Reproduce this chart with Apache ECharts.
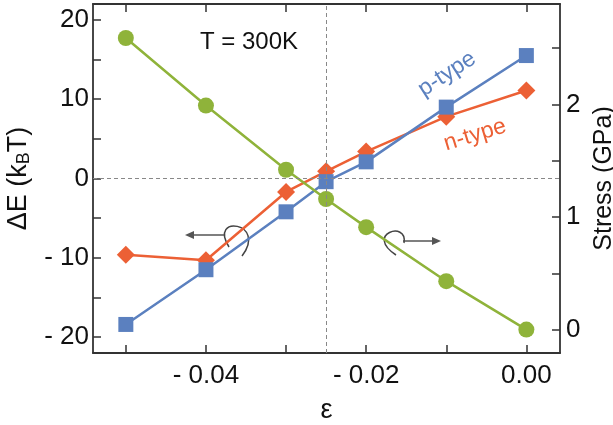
<!DOCTYPE html>
<html>
<head>
<meta charset="utf-8">
<script src="https://cdn.jsdelivr.net/npm/echarts@6/dist/echarts.min.js"></script>
<style>
  html, body { margin: 0; padding: 0; background: #fff; }
  #chart { width: 613px; height: 425px; }
</style>
</head>
<body>
<div id="chart"></div>
<script>
// strain values (x) and the three curves
var strain = [-0.05, -0.04, -0.03, -0.025, -0.02, -0.01, 0.0];
var pType = [-18.4, -11.5, -4.2, -0.4, 2.1, 9.0, 15.5];      // kBT
var nType = [-9.6, -10.3, -1.7, 0.9, 3.4, 7.8, 11.1];        // kBT
var stress = [2.59, 1.99, 1.42, 1.16, 0.91, 0.43, 0.0];      // GPa

var xTicks = [-0.05, -0.04, -0.03, -0.02, -0.01, 0.0];
var xLabels = [-0.04, -0.02, 0.0];
var leftTicks = [-20, -15, -10, -5, 0, 5, 10, 15, 20];
var leftLabels = [-20, -10, 0, 10, 20];
var rightTicks = [0, 0.5, 1, 1.5, 2, 2.5];
var rightLabels = [0, 1, 2];

var xMin = -0.0541, xMax = 0.0042;
var yMin = -22, yMax = 22;
var crossX = -0.025;

var font = "'Liberation Sans', Arial, sans-serif";
var axisColor = '#333';
var blue = '#5b80bf';
var orange = '#ec6035';
var green = '#8fb33a';

function pairs(xs, ys) {
    return xs.map(function (x, i) { return [x, ys[i]]; });
}

var chart = echarts.init(document.getElementById('chart'));

var axisLine = { show: true, onZero: false, lineStyle: { color: axisColor, width: 1.8 } };

var option = {
    animation: false,
    textStyle: { fontFamily: font },
    grid: { left: 93, right: 53, top: 4, bottom: 72, containLabel: false, outerBoundsMode: 'none' },
    xAxis: [{
        type: 'value',
        position: 'bottom',
        min: xMin,
        max: xMax,
        name: 'ε',
        nameLocation: 'middle',
        nameGap: 44,
        nameTextStyle: { fontSize: 27, color: '#111', fontFamily: font },
        axisLine: axisLine,
        axisTick: { show: true, inside: true, length: 8, customValues: xTicks, lineStyle: { color: axisColor, width: 1.5 } },
        axisLabel: {
            customValues: xLabels,
            margin: 10,
            fontSize: 26,
            color: '#111',
            fontFamily: font,
            formatter: function (v) {
                return v < 0 ? '- ' + Math.abs(v).toFixed(2) : Math.abs(v).toFixed(2);
            }
        },
        splitLine: { show: false }
    }, {
        type: 'value',
        position: 'top',
        min: xMin,
        max: xMax,
        axisLine: axisLine,
        axisTick: { show: true, inside: true, length: 8, customValues: xTicks, lineStyle: { color: axisColor, width: 1.5 } },
        axisLabel: { show: false },
        splitLine: { show: false }
    }],
    yAxis: [{
        type: 'value',
        position: 'left',
        min: yMin,
        max: yMax,
        name: 'ΔE (k{sub|B}T)',
        nameLocation: 'middle',
        nameRotate: 90,
        nameGap: 52,
        nameTextStyle: {
            fontSize: 27, color: '#111', fontFamily: font, lineHeight: 30,
            rich: { sub: { fontSize: 18, color: '#111', fontFamily: font, verticalAlign: 'bottom', lineHeight: 18 } }
        },
        axisLine: axisLine,
        axisTick: { show: true, inside: true, length: 8, customValues: leftTicks, lineStyle: { color: axisColor, width: 1.5 } },
        axisLabel: {
            customValues: leftLabels,
            margin: 4,
            fontSize: 26,
            color: '#111',
            fontFamily: font,
            formatter: function (v) {
                return v < 0 ? '- ' + Math.abs(v) : String(v);
            }
        },
        splitLine: { show: false }
    }, {
        type: 'value',
        position: 'right',
        min: -0.208,
        max: 2.892,
        name: 'Stress (GPa)',
        nameLocation: 'middle',
        nameRotate: 90,
        nameGap: 24,
        nameTextStyle: { fontSize: 25, color: '#111', fontFamily: font },
        axisLine: axisLine,
        axisTick: { show: true, inside: true, length: 8, customValues: rightTicks, lineStyle: { color: axisColor, width: 1.5 } },
        axisLabel: {
            customValues: rightLabels,
            margin: 6,
            fontSize: 26,
            color: '#111',
            fontFamily: font
        },
        splitLine: { show: false }
    }],
    series: [{
        name: 'n-type',
        type: 'line',
        yAxisIndex: 0,
        data: pairs(strain, nType),
        symbol: 'diamond',
        symbolSize: [18, 18],
        lineStyle: { color: orange, width: 2.5 },
        itemStyle: { color: orange },
        markLine: {
            silent: true,
            symbol: 'none',
            label: { show: false },
            lineStyle: { color: '#888', type: [4, 3], width: 1 },
            data: [
                [{ coord: [xMin, 0] }, { coord: [xMax, 0] }],
                [{ coord: [crossX, yMin] }, { coord: [crossX, yMax] }]
            ]
        }
    }, {
        name: 'p-type',
        type: 'line',
        yAxisIndex: 0,
        data: pairs(strain, pType),
        symbol: 'rect',
        symbolSize: 15,
        lineStyle: { color: blue, width: 2.5 },
        itemStyle: { color: blue }
    }, {
        name: 'stress',
        type: 'line',
        yAxisIndex: 1,
        data: pairs(strain, stress),
        symbol: 'circle',
        symbolSize: 16,
        lineStyle: { color: green, width: 2.5 },
        itemStyle: { color: green }
    }],
    graphic: [
        { type: 'text', left: 200, top: 30, style: { text: 'T = 300K', fontSize: 24, fill: '#111', fontFamily: font } },
        { type: 'text', x: 447, y: 74, rotation: 33 * Math.PI / 180,
          style: { text: 'p-type', fontSize: 23, fill: blue, fontFamily: font, align: 'center', verticalAlign: 'middle' } },
        { type: 'text', x: 475, y: 135, rotation: 17 * Math.PI / 180,
          style: { text: 'n-type', fontSize: 23, fill: orange, fontFamily: font, align: 'center', verticalAlign: 'middle' } },
        // left arrow with rotation loop
        { type: 'line', shape: { x1: 224, y1: 235, x2: 190, y2: 235 }, style: { stroke: '#555', lineWidth: 1.5 } },
        { type: 'polygon', shape: { points: [[185, 235], [194, 231], [194, 239]] }, style: { fill: '#555' } },
        { type: 'bezierCurve', shape: { x1: 229, y1: 247, cpx1: 208, cpy1: 214, cpx2: 268, cpy2: 222, x2: 242, y2: 256 },
          style: { stroke: '#444', lineWidth: 1.5, fill: null } },
        // right arrow with rotation loop
        { type: 'line', shape: { x1: 403, y1: 241, x2: 435, y2: 241 }, style: { stroke: '#555', lineWidth: 1.5 } },
        { type: 'polygon', shape: { points: [[441, 241], [432, 237], [432, 245]] }, style: { fill: '#555' } },
        { type: 'bezierCurve', shape: { x1: 404, y1: 243, cpx1: 408, cpy1: 220, cpx2: 364, cpy2: 234, x2: 396, y2: 255 },
          style: { stroke: '#444', lineWidth: 1.5, fill: null } }
    ]
};

chart.setOption(option);
</script>
</body>
</html>
